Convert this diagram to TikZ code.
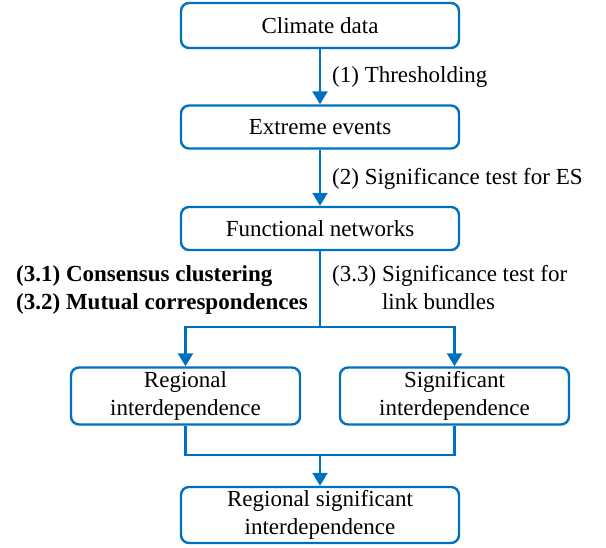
\documentclass[tikz,border=0pt]{standalone}
\usepackage{fontspec}
\newfontfamily\tnr{Liberation Serif}
\usetikzlibrary{arrows.meta}
\definecolor{flowblue}{HTML}{0070C0}
\begin{document}
\begin{tikzpicture}[x=1pt,y=-1pt,
  every node/.style={font=\fontsize{23}{28}\selectfont, inner sep=0pt},
  box/.style={draw=flowblue, line width=2.4pt, rounded corners=8pt, align=center, fill=white},
  wbox/.style={box, minimum width=278pt},
  sbox/.style={box, minimum width=229pt, minimum height=57pt},
  conn/.style={draw=flowblue, line width=2.4pt},
  tip/.style={-{Triangle[length=13pt,width=15pt]}},
  lbl/.style={anchor=west, align=left}
]
\useasboundingbox (0,0) rectangle (606,548);

\node[wbox, minimum height=45pt] (c) at (320,25.5) {\tnr Climate data};
\node[wbox, minimum height=43pt] (e) at (320,127) {\tnr Extreme events};
\node[wbox, minimum height=43pt] (f) at (320,228.5) {\tnr Functional networks};
\node[sbox] (rl) at (185.5,396) {\tnr Regional\\\tnr interdependence};
\node[sbox] (sg) at (454.5,396) {\tnr Significant\\\tnr interdependence};
\node[wbox, minimum height=56pt] (rs) at (320,515) {\tnr Regional significant\\\tnr interdependence};

\coordinate (j1) at (320,327);
\coordinate (j2) at (320,455);

\draw[conn,tip] (c) -- (e);
\draw[conn,tip] (e) -- (f);
\draw[conn] (f) -- (j1);
\draw[conn,{Triangle[length=13pt,width=15pt]}-{Triangle[length=13pt,width=15pt]}] (rl.north) |- (j1) -| (sg.north);
\draw[conn] (rl.south) |- (j2) -| (sg.south);
\draw[conn,tip] (j2) -- (rs);

\node[lbl] (l1) at (332,77) {\tnr (1) Thresholding};
\node[lbl] (l2) at (332,179) {\tnr (2) Significance test for ES};
\node[lbl] (l3) at (16,290) {\tnr\bfseries (3.1) Consensus clustering\\\tnr\bfseries (3.2) Mutual correspondences};
\node[lbl] (l4) at (332,290) {\tnr (3.3) Significance test for\\\tnr\phantom{(3.3) }link bundles};
\end{tikzpicture}
\end{document}
